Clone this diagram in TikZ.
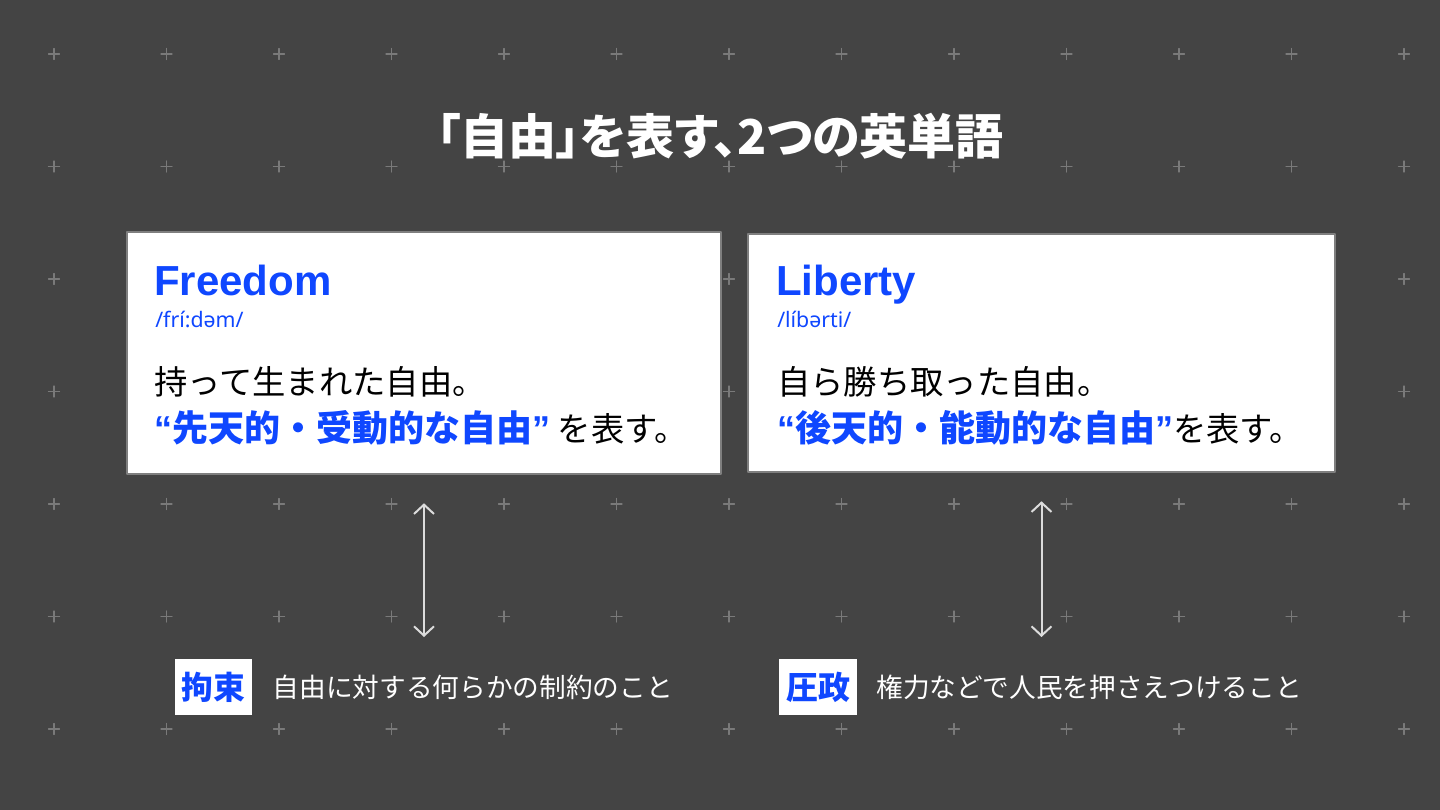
\documentclass[tikz,border=0pt]{standalone}
\usepackage{fontspec}
\setmainfont{Noto Sans CJK JP}
\newfontfamily\titlefont{Noto Sans CJK JP}[RawFeature=+palt]
\newfontfamily\latinsans{Liberation Sans}
\newfontfamily\ipasans{Noto Sans}
\usetikzlibrary{arrows.meta,positioning}
\definecolor{slate}{HTML}{444444}
\definecolor{wordblue}{HTML}{0F47FF}
\definecolor{crossgray}{HTML}{7A7A7A}
\definecolor{arrowgray}{HTML}{DCDCDC}
\definecolor{cardedge}{HTML}{7F7F7F}
\newcommand\keyphrase[1]{{\bfseries\fontsize{27}{31}\selectfont\color{wordblue}{\latinsans “}#1{\latinsans ”}}}

\begin{document}
\begin{tikzpicture}[x=0.75pt, y=-0.75pt, line cap=round, line join=round,
  cross/.style={draw=crossgray, line width=0.8pt},
  card/.style={draw=cardedge, line width=0.9pt, fill=white, inner sep=0},
  headline/.style={text=white, font=\titlefont\bfseries\fontsize{36}{41}\selectfont, inner sep=0},
  word/.style={text=wordblue, font=\latinsans\bfseries\fontsize{31.5}{36}\selectfont, anchor=base west, inner sep=0},
  ipa/.style={text=wordblue, font=\ipasans\fontsize{16}{19}\selectfont, anchor=base west, inner sep=0},
  gloss/.style={font=\fontsize{25}{29}\selectfont, anchor=base west, inner sep=0},
  link/.style={draw=arrowgray, line width=1.5pt, arrows={Straight Barb[length=7pt,width=15pt]-Straight Barb[length=7pt,width=15pt]}},
  tag/.style={fill=white, text=wordblue, font=\bfseries\fontsize{24}{28}\selectfont, minimum width=58pt, minimum height=42pt, inner sep=0},
  note/.style={text=white, font=\fontsize{20}{24}\selectfont, inner sep=0}]
  \fill[slate] (0,0) rectangle (1440,810);
  \useasboundingbox (0,0) rectangle (1440,810);
  \foreach \i in {0,...,12}
    \foreach \j in {0,...,6}
      \draw[cross] (54+112.5*\i,54+112.5*\j) +(-5.5,0) -- +(5.5,0) +(0,-5.5) -- +(0,5.5);

  \node[headline] (title) at (720,136) {「自由」を表す、2つの英単語};

  \node[card, minimum width=445.5pt, minimum height=181.5pt] (fbox) at (424,353) {};
  \node[word] (fword) at (154,295) {Freedom};
  \node[ipa] (fipa) at (155,327) {/frí:dəm/};
  \node[gloss] (fline1) at (154,394) {持って生まれた自由。};
  \node[gloss] (fline2) at (154,441) {\keyphrase{先天的・受動的な自由} を表す。};

  \node[card, minimum width=440.25pt, minimum height=178.5pt] (lbox) at (1041.5,353) {};
  \node[word] (lword) at (776,295) {Liberty};
  \node[ipa] (lipa) at (777,327) {/líbərti/};
  \node[gloss] (lline1) at (777,394) {自ら勝ち取った自由。};
  \node[gloss] (lline2) at (777,441) {\keyphrase{後天的・能動的な自由}を表す。};

  \coordinate (fend) at (424,637);
  \coordinate (lend) at (1041.5,637);
  \draw[link, shorten <=21.5pt] (fbox) -- (fend);
  \draw[link, shorten <=21.5pt] (lbox) -- (lend);

  \node[tag] (ftag) at (213.5,687) {拘束};
  \node[note, right=15pt of ftag] (fnote) {自由に対する何らかの制約のこと};
  \node[tag] (ltag) at (818,687) {圧政};
  \node[note, right=14.5pt of ltag] (lnote) {権力などで人民を押さえつけること};
\end{tikzpicture}
\end{document}
